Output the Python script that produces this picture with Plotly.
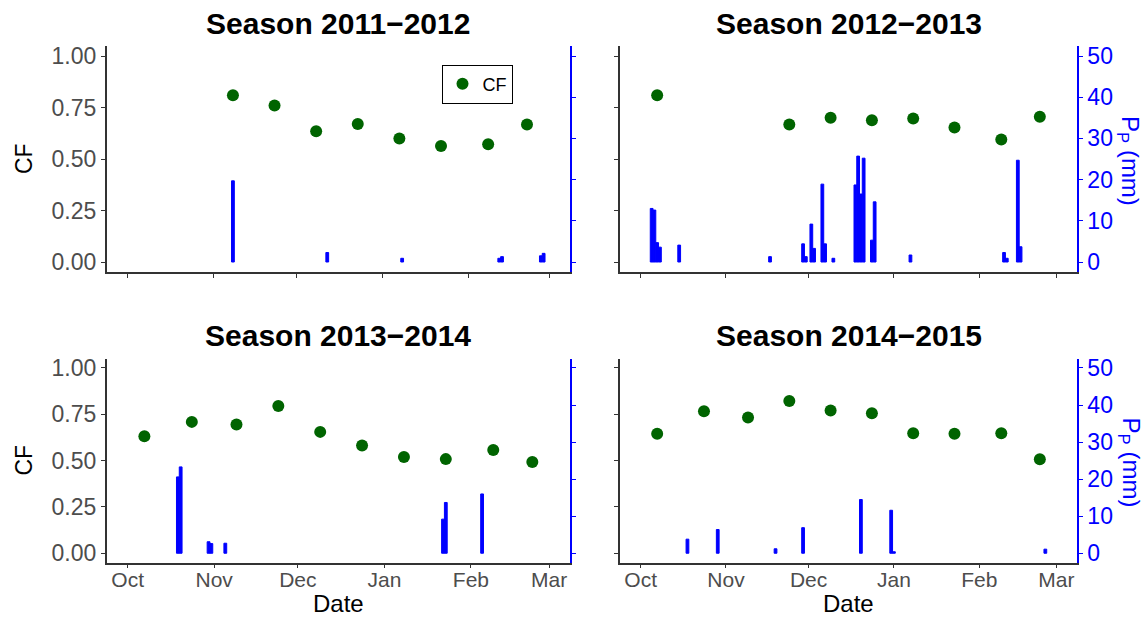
import plotly.graph_objects as go
import pandas as pd

W, H = 1145, 617

# ---------------- data ----------------
season_titles = ["Season 2011−2012", "Season 2012−2013", "Season 2013−2014", "Season 2014−2015"]
season_start_years = [2011, 2012, 2013, 2014]
month_labels = ["Oct", "Nov", "Dec", "Jan", "Feb", "Mar"]

cf_dates_1112 = ["2011-11-08", "2011-11-23", "2011-12-08", "2011-12-23", "2012-01-07",
                 "2012-01-22", "2012-02-08", "2012-02-22"]
cf_vals_1112 = [0.81, 0.76, 0.635, 0.67, 0.60, 0.563, 0.572, 0.668]
pp_dates_1112 = ["2011-11-08", "2011-12-12", "2012-01-08", "2012-02-12", "2012-02-13",
                 "2012-02-27", "2012-02-28"]
pp_vals_1112 = [19.7, 2.3, 0.9, 0.9, 1.3, 1.5, 2.1]

cf_dates_1213 = ["2012-10-07", "2012-11-24", "2012-12-09", "2012-12-24", "2013-01-08",
                 "2013-01-23", "2013-02-09", "2013-02-23"]
cf_vals_1213 = [0.81, 0.667, 0.70, 0.688, 0.697, 0.653, 0.595, 0.705]
pp_dates_1213 = ["2012-10-05", "2012-10-06", "2012-10-07", "2012-10-08", "2012-10-15",
                 "2012-11-17", "2012-11-29", "2012-11-30", "2012-12-02", "2012-12-03",
                 "2012-12-06", "2012-12-07", "2012-12-10", "2012-12-18", "2012-12-19",
                 "2012-12-20", "2012-12-21", "2012-12-24", "2012-12-25", "2013-01-07",
                 "2013-02-10", "2013-02-11", "2013-02-15", "2013-02-16"]
pp_vals_1213 = [13.0, 12.6, 4.7, 3.6, 4.1, 1.3, 4.4, 1.3, 9.2, 3.3, 18.9, 4.4, 0.9,
                18.7, 25.7, 16.5, 25.2, 5.3, 14.6, 1.7, 2.3, 0.9, 24.7, 3.7]

cf_dates_1314 = ["2013-10-07", "2013-10-24", "2013-11-09", "2013-11-24", "2013-12-09",
                 "2013-12-24", "2014-01-08", "2014-01-23", "2014-02-09", "2014-02-23"]
cf_vals_1314 = [0.632, 0.709, 0.695, 0.795, 0.655, 0.582, 0.519, 0.508, 0.557, 0.492]
pp_dates_1314 = ["2013-10-19", "2013-10-20", "2013-10-30", "2013-10-31", "2013-11-05",
                 "2014-01-22", "2014-01-23", "2014-02-05"]
pp_vals_1314 = [20.6, 23.3, 3.1, 2.6, 2.7, 9.2, 13.7, 16.0]

cf_dates_1415 = ["2014-10-07", "2014-10-24", "2014-11-09", "2014-11-24", "2014-12-09",
                 "2014-12-24", "2015-01-08", "2015-01-23", "2015-02-09", "2015-02-23"]
cf_vals_1415 = [0.645, 0.766, 0.733, 0.822, 0.77, 0.755, 0.648, 0.645, 0.648, 0.507]
pp_dates_1415 = ["2014-10-18", "2014-10-29", "2014-11-19", "2014-11-29", "2014-12-20",
                 "2014-12-31", "2015-01-01", "2015-02-25"]
pp_vals_1415 = [3.8, 6.4, 1.2, 6.9, 14.5, 11.6, 0.4, 1.1]

cf_ticks = [0, 0.25, 0.5, 0.75, 1.0]
pp_ticks = [0, 10, 20, 30, 40, 50]

panels = [
    (cf_dates_1112, cf_vals_1112, pp_dates_1112, pp_vals_1112),
    (cf_dates_1213, cf_vals_1213, pp_dates_1213, pp_vals_1213),
    (cf_dates_1314, cf_vals_1314, pp_dates_1314, pp_vals_1314),
    (cf_dates_1415, cf_vals_1415, pp_dates_1415, pp_vals_1415),
]

# ---------------- layout geometry (pixels) ----------------
FONT = "Liberation Sans, Arial, sans-serif"
GREEN = "#006400"
BLUE = "#0000FF"
GREY = "#4d4d4d"

def px_x(p):
    return p / W

def px_y(p):
    return 1 - p / H

col_px = [(106.7, 570.0), (620.0, 1077.0)]
row_px = [(45.7, 272.3), (358.7, 562.5)]
title_y_px = [24, 336]

fig = go.Figure()
layout = dict(
    width=W, height=H,
    margin=dict(l=0, r=0, t=0, b=0),
    paper_bgcolor="white", plot_bgcolor="white",
    barmode="overlay",
    showlegend=True,
    legend=dict(x=px_x(441.5), y=px_y(64.5), xanchor="left", yanchor="top",
                bordercolor="black", borderwidth=1, bgcolor="white",
                font=dict(family=FONT, size=18, color="black"),
                tracegroupgap=0, itemwidth=30),
    annotations=[],
)

for i, (cfd, cfv, ppd, ppv) in enumerate(panels):
    r, c = divmod(i, 2)
    xid = "" if i == 0 else str(i + 1)
    y1 = 2 * i + 1
    y2 = 2 * i + 2
    y1id = "" if y1 == 1 else str(y1)
    y2id = str(y2)
    sy = season_start_years[i]
    tickvals = [f"{sy}-10-01", f"{sy}-11-01", f"{sy}-12-01",
                f"{sy+1}-01-01", f"{sy+1}-02-01", f"{sy+1}-03-01"]
    rng = [f"{sy}-09-23 12:00", f"{sy+1}-03-08 12:00"]

    fig.add_trace(go.Bar(
        x=pd.to_datetime(ppd), y=ppv, width=86400000 * 1.0,
        marker=dict(color=BLUE, line=dict(color=BLUE, width=1)),
        xaxis="x" + xid, yaxis="y" + y2id, showlegend=False, hoverinfo="skip"))
    fig.add_trace(go.Scatter(
        x=pd.to_datetime(cfd), y=cfv, mode="markers", name="CF",
        marker=dict(color=GREEN, size=12, line=dict(width=0)),
        xaxis="x" + xid, yaxis="y" + y1id, showlegend=(i == 0)))

    xd = [px_x(col_px[c][0]), px_x(col_px[c][1])]
    yd = [px_y(row_px[r][1]), px_y(row_px[r][0])]

    layout["xaxis" + xid] = dict(
        domain=xd, anchor="y" + y1id, range=rng, type="date",
        tickvals=tickvals, ticktext=month_labels,
        showticklabels=(r == 1), ticks="outside", ticklen=4, tickwidth=1.2,
        ticklabelstandoff=-6,
        tickcolor="#333333", showline=True, linecolor="#333333", linewidth=1.5,
        showgrid=False, zeroline=False, automargin=False,
        tickfont=dict(family=FONT, size=21, color=GREY))
    layout["yaxis" + y1id] = dict(
        domain=yd, anchor="x" + xid, range=[-0.05, 1.05],
        tickvals=cf_ticks, ticktext=[f"{v:.2f}" for v in cf_ticks],
        showticklabels=(c == 0), ticks="outside", ticklen=4, tickwidth=1.2,
        tickcolor="#333333", showline=True, linecolor="#333333", linewidth=1.5,
        showgrid=False, zeroline=False, automargin=False,
        tickfont=dict(family=FONT, size=23, color=GREY))
    layout["yaxis" + y2id] = dict(
        overlaying="y" + y1id, side="right", anchor="x" + xid,
        range=[-2.5, 52.5], tickvals=pp_ticks,
        showticklabels=(c == 1), ticks="outside", ticklen=4, tickwidth=1.2,
        tickcolor=BLUE, showline=True, linecolor=BLUE, linewidth=1.5,
        showgrid=False, zeroline=False, automargin=False,
        tickfont=dict(family=FONT, size=23, color=BLUE))

    cx = (col_px[c][0] + col_px[c][1]) / 2
    cy = (row_px[r][0] + row_px[r][1]) / 2
    layout["annotations"].append(dict(
        text=f"<b>{season_titles[i]}</b>", x=px_x(cx), y=px_y(title_y_px[r]),
        xref="paper", yref="paper", xanchor="center", yanchor="middle",
        showarrow=False, font=dict(family=FONT, size=30, color="black")))
    if c == 0:
        layout["annotations"].append(dict(
            text="CF", x=px_x(24), y=px_y(cy), textangle=-90,
            xref="paper", yref="paper", xanchor="center", yanchor="middle",
            showarrow=False, font=dict(family=FONT, size=23, color="black")))
    else:
        layout["annotations"].append(dict(
            text="P<sub>P</sub> (mm)", x=px_x(1129), y=px_y(cy + 2), textangle=90,
            xref="paper", yref="paper", xanchor="center", yanchor="middle",
            showarrow=False, font=dict(family=FONT, size=24, color=BLUE)))
    if r == 1:
        layout["annotations"].append(dict(
            text="Date", x=px_x(cx), y=px_y(603),
            xref="paper", yref="paper", xanchor="center", yanchor="middle",
            showarrow=False, font=dict(family=FONT, size=24, color="black")))

fig.update_layout(**layout)
fig.write_html("out.html")
